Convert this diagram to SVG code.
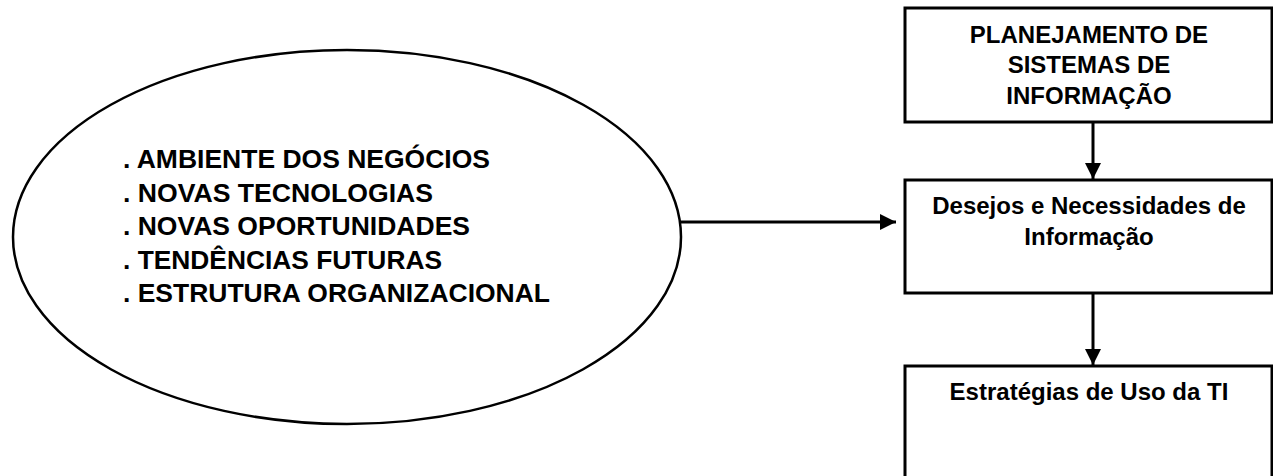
<svg xmlns="http://www.w3.org/2000/svg" width="1273" height="476" viewBox="0 0 1273 476">
<style>
.shape{fill:#fff;stroke:#000;stroke-width:3}
.ell{fill:#fff;stroke:#000;stroke-width:2.5}
.conn{stroke:#000;stroke-width:3;fill:none}
.t{font-family:"Liberation Sans",Arial,sans-serif;font-weight:bold;font-size:24px;fill:#000}
.tl{font-family:"Liberation Sans",Arial,sans-serif;font-weight:bold;font-size:25px;fill:#000}
.c{text-anchor:middle}
</style>
<defs>
<marker id="ah" viewBox="0 0 16 16" refX="16" refY="8" markerWidth="16" markerHeight="16" markerUnits="userSpaceOnUse" orient="auto">
<path d="M0,0 L16,8 L0,16 Z" fill="#000"/>
</marker>
</defs>
<rect width="1273" height="476" fill="#fff"/>
<g id="fatores">
<ellipse class="ell" cx="347" cy="237" rx="334" ry="187"/>
<text class="tl" x="123" y="168" textLength="367" lengthAdjust="spacingAndGlyphs">. AMBIENTE DOS NEGÓCIOS</text>
<text class="tl" x="123" y="201.5" textLength="310" lengthAdjust="spacingAndGlyphs">. NOVAS TECNOLOGIAS</text>
<text class="tl" x="123" y="235" textLength="347" lengthAdjust="spacingAndGlyphs">. NOVAS OPORTUNIDADES</text>
<text class="tl" x="123" y="268.5" textLength="319" lengthAdjust="spacingAndGlyphs">. TENDÊNCIAS FUTURAS</text>
<text class="tl" x="123" y="302" textLength="427" lengthAdjust="spacingAndGlyphs">. ESTRUTURA ORGANIZACIONAL</text>
</g>
<g id="planejamento">
<rect class="shape" x="905" y="8" width="367" height="114"/>
<text class="t c" x="1089" y="43">PLANEJAMENTO DE</text>
<text class="t c" x="1089" y="73">SISTEMAS DE</text>
<text class="t c" x="1089" y="104">INFORMAÇÃO</text>
</g>
<g id="desejos">
<rect class="shape" x="905" y="180" width="367" height="113"/>
<text class="t c" x="1089" y="214">Desejos e Necessidades de</text>
<text class="t c" x="1089" y="245">Informação</text>
</g>
<g id="estrategias">
<rect class="shape" x="905" y="366" width="367" height="120"/>
<text class="t c" x="1089" y="400">Estratégias de Uso da TI</text>
</g>
<g id="connectors">
<line class="conn" x1="680" y1="222" x2="896" y2="222" marker-end="url(#ah)"/>
<line class="conn" x1="1093" y1="122" x2="1093" y2="179" marker-end="url(#ah)"/>
<line class="conn" x1="1093" y1="293" x2="1093" y2="365" marker-end="url(#ah)"/>
</g>
</svg>
